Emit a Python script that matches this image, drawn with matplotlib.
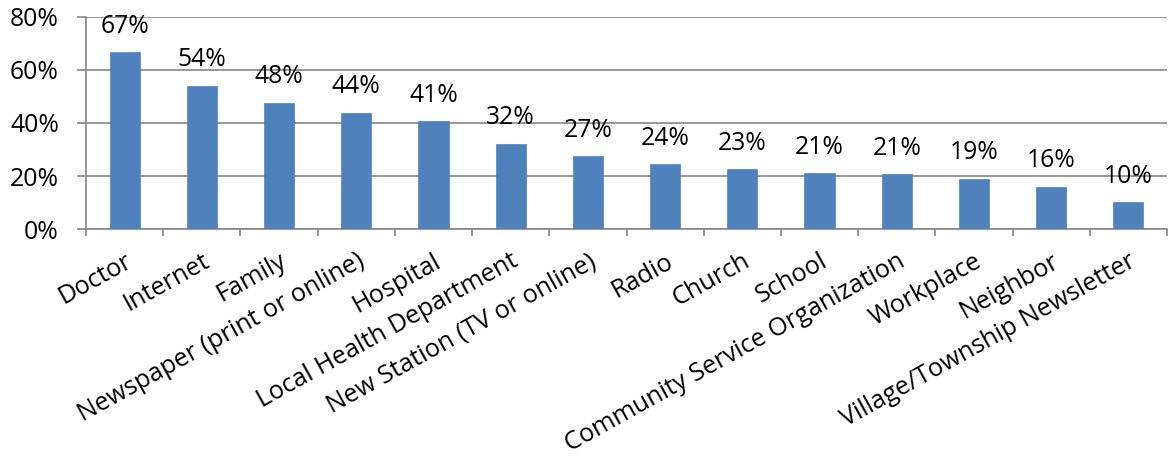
import matplotlib
matplotlib.use("Agg")
import matplotlib.pyplot as plt
import numpy as np

categories = ["Doctor", "Internet", "Family", "Newspaper (print or online)", "Hospital",
              "Local Health Department", "New Station (TV or online)", "Radio", "Church",
              "School", "Community Service Organization", "Workplace", "Neighbor",
              "Village/Township Newsletter"]
values = [66.6, 54.0, 47.6, 43.8, 40.6, 32.2, 27.4, 24.4, 22.6, 21.2, 20.8, 19.0, 16.1, 10.2]
labels = ["67%", "54%", "48%", "44%", "41%", "32%", "27%", "24%", "23%", "21%", "21%", "19%", "16%", "10%"]
yticks = [0, 20, 40, 60, 80]

plt.rcParams['font.family'] = ['Open Sans', 'DejaVu Sans']
FS = 17.8
grid_c = '#868686'

fig = plt.figure(figsize=(11.71, 4.59), dpi=100)
ax = fig.add_axes([86/1171, 1-229.3/459, (1167-86)/1171, (229.3-16.7)/459])
x = np.arange(len(categories))
ax.bar(x, values, width=0.39, color='#4F81BD', edgecolor='#4F81BD', linewidth=0.5, zorder=3)
for xi, v, lab in zip(x, values, labels):
    ax.annotate(lab, (xi, v), xytext=(0, 14), textcoords='offset points',
                ha='center', va='baseline', fontsize=FS, color='black')

ax.set_xlim(-0.5, len(categories) - 0.5)
ax.set_ylim(0, 80)
ax.set_yticks(yticks)
ax.set_yticklabels([f"{t}%" for t in yticks], fontsize=FS)
ax.yaxis.grid(True, color=grid_c, linewidth=1.2, zorder=0)
ax.tick_params(axis='y', length=6.5, width=1.2, color=grid_c, pad=13)

ax.set_xticks(x)
ax.set_xticklabels(categories, fontsize=18.2, rotation=29, ha='right', va='top',
                   rotation_mode='anchor')
ax.tick_params(axis='x', which='major', length=0, pad=14)
ax.set_xticks(np.arange(-0.5, len(categories)), minor=True)
ax.tick_params(axis='x', which='minor', length=5, width=1.2, color=grid_c)

for s in ['top', 'right']:
    ax.spines[s].set_visible(False)
for s in ['left', 'bottom']:
    ax.spines[s].set_color(grid_c)
    ax.spines[s].set_linewidth(1.2)

fig.savefig('out.png', dpi=100)
